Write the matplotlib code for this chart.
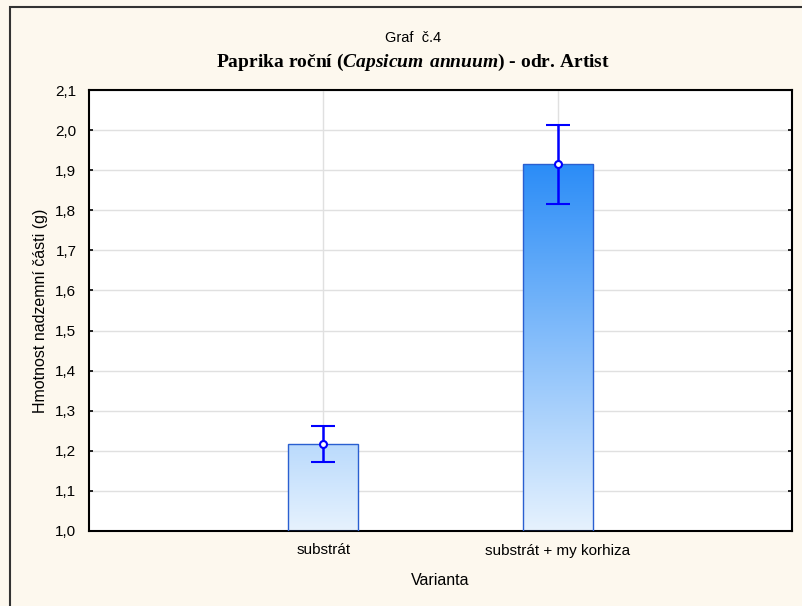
import matplotlib.pyplot as plt
import numpy as np
from matplotlib.colors import LinearSegmentedColormap
from matplotlib.patches import Rectangle
from matplotlib.ticker import FuncFormatter, MultipleLocator

plt.rcParams['font.family'] = ['Liberation Sans', 'DejaVu Sans']
plt.rcParams['mathtext.fontset'] = 'custom'
plt.rcParams['mathtext.bf'] = 'Liberation Serif:bold:italic'

# data
categories = ["substrát", "substrát + my korhiza"]
means = [1.218, 1.915]
err_low = [0.045, 0.100]
err_high = [0.043, 0.098]

fig = plt.figure(figsize=(8.02, 6.06), dpi=100)
fig.patch.set_facecolor("#fdf8ee")

# ramecek kolem celeho obrazku
fig.patches.append(Rectangle((10 / 802, -0.1), 1.2, 1.1 - 7 / 606,
                             transform=fig.transFigure, fill=False,
                             edgecolor="#333333", linewidth=1.5))

ax = fig.add_axes([89 / 802, 1 - 531 / 606, (792 - 89) / 802, (531 - 90) / 606])
ax.set_facecolor("white")

x = np.arange(1, len(categories) + 1)
width = 0.3
ymin, ymax = 1.0, 2.1

# sloupce s gradientem (barva podle hodnoty na ose y)
cmap = LinearSegmentedColormap.from_list("blu", ["#e6f2fe", "#2a8cf7"])
grad = np.linspace(0, 1, 256).reshape(-1, 1)
bars = ax.bar(x, [m - ymin for m in means], width=width, bottom=ymin,
              facecolor="none", edgecolor="#2a5fd0", linewidth=1.0, zorder=3)
for b in bars:
    im = ax.imshow(grad, cmap=cmap, aspect="auto", origin="lower",
                   extent=[b.get_x(), b.get_x() + b.get_width(), 1.0, 1.92],
                   zorder=2)
    im.set_clip_path(b)

ax.errorbar(x, means, yerr=[err_low, err_high], fmt="o", color="#0000ff",
            markerfacecolor="white", markeredgecolor="#0000ff", markersize=5,
            markeredgewidth=1.5, elinewidth=1.8, capsize=8.5, capthick=1.8,
            zorder=4)

ax.set_xlim(0, 3)
ax.set_ylim(ymin, ymax)
ax.yaxis.set_major_locator(MultipleLocator(0.1))
ax.yaxis.set_major_formatter(FuncFormatter(lambda v, p: f"{v:.1f}".replace(".", ",")))
ax.set_xticks(x)
ax.set_xticklabels(categories)

ax.grid(True, color="#e0e0e0", linewidth=1.0, zorder=0)
ax.set_axisbelow(True)
for s in ax.spines.values():
    s.set_linewidth(1.5)
    s.set_color("black")
ax.tick_params(axis="both", direction="in", length=3, width=1.2, labelsize=11,
               pad=9, right=True)
ax.tick_params(axis="x", pad=9)

ax.set_ylabel("Hmotnost nadzemní části (g)", fontsize=11.5, labelpad=5)
ax.set_xlabel("Varianta", fontsize=11.5, labelpad=11)

fig.text(0.515, 1 - 38 / 606, "Graf  č.4", ha="center", va="center", fontsize=10.5)
fig.text(0.515, 1 - 62 / 606,
         r"Paprika roční ($\mathbf{Capsicum\ annuum}$) - odr. Artist",
         ha="center", va="center", fontsize=14, fontweight="bold",
         family="Liberation Serif")

fig.savefig("out.png", dpi=100, facecolor=fig.get_facecolor())
